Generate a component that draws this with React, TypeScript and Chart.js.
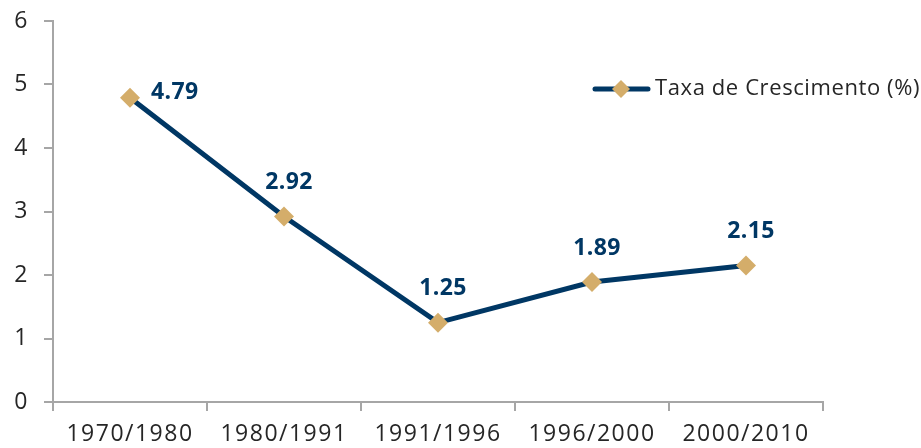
import React, { useEffect, useRef } from "react";
import { Chart, registerables } from "chart.js";

Chart.register(...registerables);

const categories = ["1970/1980", "1980/1991", "1991/1996", "1996/2000", "2000/2010"];
const values = [4.79, 2.92, 1.25, 1.89, 2.15];
const seriesName = "Taxa de Crescimento (%)";
const yTicks = [0, 1, 2, 3, 4, 5, 6];

const NAVY = "#003764";
const GOLD = "#D4AD6A";
const AXIS = "#A6A6A6";
const TEXT = "#262626";
const FONT = "'Open Sans', 'Noto Sans', sans-serif";

const spacing = {
  id: "spacing",
  beforeInit(chart: any) {
    chart.ctx.letterSpacing = "1.5px";
  },
  beforeDraw(chart: any) {
    chart.ctx.letterSpacing = "1.5px";
  },
};

const overlay = {
  id: "overlay",
  afterDatasetsDraw(chart: any) {
    const ctx = chart.ctx;
    const meta = chart.getDatasetMeta(0);
    ctx.save();
    ctx.letterSpacing = "0.4px";
    ctx.fillStyle = NAVY;
    ctx.font = `bold 23px ${FONT}`;
    ctx.textBaseline = "middle";
    meta.data.forEach((pt: any, i: number) => {
      const txt = values[i].toFixed(2);
      if (i === 0) {
        ctx.textAlign = "left";
        ctx.fillText(txt, pt.x + 21, pt.y - 5);
      } else {
        ctx.textAlign = "center";
        ctx.fillText(txt, pt.x + 5, pt.y - 34);
      }
    });
    // legend
    const ly = 89;
    ctx.strokeStyle = NAVY;
    ctx.lineWidth = 5;
    ctx.lineCap = "round";
    ctx.beginPath();
    ctx.moveTo(595, ly);
    ctx.lineTo(648, ly);
    ctx.stroke();
    ctx.fillStyle = GOLD;
    ctx.beginPath();
    ctx.moveTo(621, ly - 9);
    ctx.lineTo(630, ly);
    ctx.lineTo(621, ly + 9);
    ctx.lineTo(612, ly);
    ctx.closePath();
    ctx.fill();
    ctx.fillStyle = TEXT;
    ctx.font = `22px ${FONT}`;
    ctx.letterSpacing = "0.6px";
    ctx.textAlign = "left";
    ctx.fillText(seriesName, 655, ly);
    ctx.restore();
  },
};

export default function App() {
  const ref = useRef<HTMLCanvasElement>(null);
  useEffect(() => {
    document.body.style.margin = "0";
    const chart = new Chart(ref.current!, {
      type: "line",
      data: {
        labels: categories,
        datasets: [
          {
            label: seriesName,
            data: values,
            borderColor: NAVY,
            borderWidth: 5,
            pointStyle: "rectRot",
            pointRadius: 10,
            pointHoverRadius: 10,
            pointBackgroundColor: GOLD,
            pointBorderColor: GOLD,
            pointBorderWidth: 0,
            tension: 0,
          },
        ],
      },
      options: {
        animation: false,
        responsive: false,
        events: [],
        layout: { padding: { top: 21, right: 98, left: 0, bottom: 0 } },
        plugins: { legend: { display: false }, tooltip: { enabled: false } },
        scales: {
          x: {
            offset: true,
            grid: { offset: true, drawOnChartArea: false, drawTicks: true, tickLength: 9, color: AXIS, lineWidth: 2 },
            border: { display: true, color: AXIS, width: 2 },
            ticks: { color: TEXT, font: { family: FONT, size: 23 }, padding: 10, maxRotation: 0, autoSkip: false },
            afterFit: (s: any) => {
              s.height = 46;
              s.paddingLeft = 0;
              s.paddingRight = 0;
            },
          },
          y: {
            min: 0,
            max: 6,
            afterBuildTicks: (s: any) => { s.ticks = yTicks.map((v) => ({ value: v })); },
            grid: { drawOnChartArea: false, drawTicks: true, tickLength: 9, color: AXIS, lineWidth: 2 },
            border: { display: true, color: AXIS, width: 2 },
            ticks: { color: TEXT, font: { family: FONT, size: 23 }, padding: 15 },
            afterFit: (s: any) => {
              s.width = 53;
              s.paddingTop = 0;
              s.paddingBottom = 0;
            },
          },
        },
      },
      plugins: [spacing, overlay],
    });
    return () => chart.destroy();
  }, []);
  return <canvas ref={ref} width={921} height={448} style={{ display: "block" }} />;
}
